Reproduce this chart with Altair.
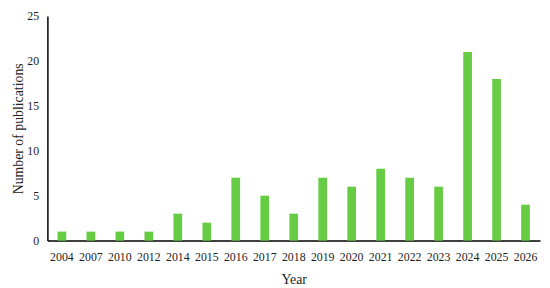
import altair as alt
import pandas as pd

years = ["2004", "2007", "2010", "2012", "2014", "2015", "2016", "2017", "2018",
         "2019", "2020", "2021", "2022", "2023", "2024", "2025", "2026"]
counts = [1, 1, 1, 1, 3, 2, 7, 5, 3, 7, 6, 8, 7, 6, 21, 18, 4]

df = pd.DataFrame({"Year": years, "Count": counts})

FONT = "Liberation Serif"

chart = alt.Chart(df).mark_bar(color="#66CC44").encode(
    x=alt.X("Year:N", sort=years,
            scale=alt.Scale(paddingInner=0.7, paddingOuter=0.35),
            axis=alt.Axis(title="Year", labelAngle=0, ticks=False,
                          domainColor="black", domainWidth=1.5,
                          labelPadding=11, titlePadding=11,
                          labelFont=FONT, titleFont=FONT,
                          labelFontSize=12, titleFontSize=14,
                          titleFontWeight="normal",
                          labelColor="#222", titleColor="#222")),
    y=alt.Y("Count:Q", scale=alt.Scale(domain=[0, 25]),
            axis=alt.Axis(title="Number of publications", values=[0, 5, 10, 15, 20, 25],
                          ticks=False, grid=False, domainColor="black",
                          domainWidth=1.5, labelPadding=9, titlePadding=1,
                          labelFont=FONT, titleFont=FONT,
                          labelFontSize=12, titleFontSize=14,
                          titleFontWeight="normal",
                          labelColor="#222", titleColor="#222")),
).properties(
    width=500, height=228,
    autosize=alt.AutoSizeParams(type="none"),
    padding={"left": 40, "top": 6, "right": 2, "bottom": 46},
).configure_view(stroke=None)

chart.save("out.html", embed_options={"renderer": "svg", "actions": False})
